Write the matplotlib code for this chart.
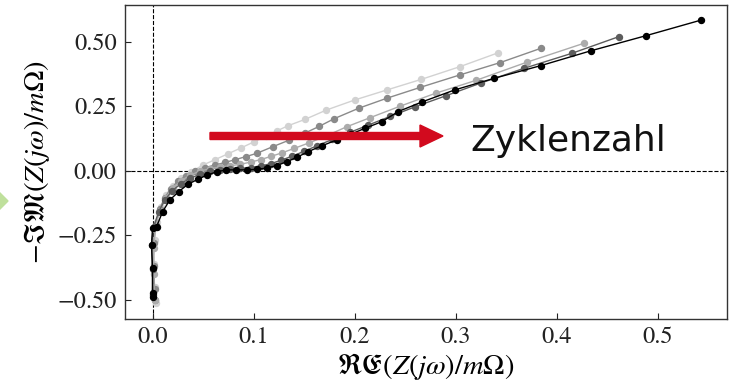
import matplotlib
matplotlib.use("Agg")
import matplotlib.pyplot as plt
from matplotlib.patches import FancyArrow, Polygon

# Nyquist spectra, one per cycle count (light -> dark)
colors = ["#d2d2d2", "#8a8a8a", "#acacac", "#5c5c5c", "#000000"]

re_1 = [0.003, 0.002, 0.001, 0.002, 0.004, 0.008, 0.013, 0.020, 0.028, 0.038, 0.050, 0.062,
        0.075, 0.088, 0.100, 0.112, 0.123, 0.134, 0.151, 0.172, 0.200, 0.232, 0.266, 0.304, 0.342]
im_1 = [-0.514, -0.45, -0.36, -0.27, -0.20, -0.14, -0.095, -0.058, -0.030, -0.005, 0.022, 0.043,
        0.066, 0.089, 0.111, 0.133, 0.154, 0.174, 0.199, 0.235, 0.274, 0.313, 0.354, 0.403, 0.457]

re_2 = [0.002, 0.002, 0.001, 0.001, 0.003, 0.007, 0.012, 0.018, 0.025, 0.033, 0.042, 0.052, 0.062,
        0.072, 0.082, 0.092, 0.103, 0.119, 0.135, 0.151, 0.165, 0.180, 0.204, 0.232, 0.265, 0.304,
        0.344, 0.384]
im_2 = [-0.50, -0.46, -0.37, -0.28, -0.21, -0.15, -0.105, -0.070, -0.042, -0.020, -0.002, 0.012,
        0.022, 0.032, 0.043, 0.054, 0.067, 0.093, 0.118, 0.146, 0.172, 0.202, 0.242, 0.281, 0.323,
        0.371, 0.419, 0.474]

re_3 = [0.002, 0.001, 0.001, 0.003, 0.007, 0.013, 0.020, 0.028, 0.037, 0.047, 0.057, 0.067, 0.077,
        0.087, 0.097, 0.107, 0.117, 0.128, 0.140, 0.155, 0.172, 0.192, 0.215, 0.245, 0.280, 0.320,
        0.370, 0.427]
im_3 = [-0.50, -0.40, -0.30, -0.22, -0.155, -0.105, -0.068, -0.040, -0.018, -0.002, 0.008, 0.014,
        0.019, 0.025, 0.033, 0.043, 0.055, 0.069, 0.086, 0.108, 0.135, 0.170, 0.205, 0.250, 0.300,
        0.350, 0.420, 0.494]

re_4 = [0.000, 0.000, -0.001, 0.001, 0.006, 0.012, 0.019, 0.028, 0.037, 0.047, 0.057, 0.067, 0.077,
        0.087, 0.097, 0.107, 0.117, 0.127, 0.138, 0.150, 0.163, 0.178, 0.195, 0.213, 0.235, 0.260,
        0.290, 0.325, 0.367, 0.415, 0.461]
im_4 = [-0.48, -0.38, -0.29, -0.22, -0.16, -0.115, -0.080, -0.050, -0.030, -0.014, -0.003, 0.004,
        0.007, 0.009, 0.012, 0.018, 0.027, 0.040, 0.056, 0.075, 0.097, 0.121, 0.148, 0.176, 0.210,
        0.248, 0.290, 0.340, 0.396, 0.455, 0.519]

re_5 = [0.000, 0.000, 0.000, -0.001, 0.000, 0.004, 0.010, 0.017, 0.026, 0.035, 0.045, 0.054, 0.064,
        0.073, 0.083, 0.093, 0.103, 0.113, 0.123, 0.133, 0.143, 0.154, 0.168, 0.182, 0.196, 0.210,
        0.227, 0.243, 0.267, 0.299, 0.338, 0.384, 0.434, 0.488, 0.543]
im_5 = [-0.49, -0.475, -0.378, -0.288, -0.223, -0.217, -0.159, -0.114, -0.081, -0.053, -0.033,
        -0.017, -0.004, 0.003, 0.003, 0.003, 0.005, 0.010, 0.020, 0.035, 0.052, 0.074, 0.097, 0.119,
        0.141, 0.164, 0.190, 0.229, 0.267, 0.313, 0.358, 0.407, 0.465, 0.523, 0.584]

series = [(re_1, im_1), (re_2, im_2), (re_3, im_3), (re_4, im_4), (re_5, im_5)]

xticks = [0.0, 0.1, 0.2, 0.3, 0.4, 0.5]
yticks = [-0.50, -0.25, 0.00, 0.25, 0.50]

plt.rcParams["mathtext.fontset"] = "stix"
plt.rcParams["font.family"] = "STIXGeneral"

fig = plt.figure(figsize=(7.29, 3.83), dpi=100)
ax = fig.add_axes([0.1715, 0.1684, 0.8258, 0.8185])

ax.axhline(0, color="black", ls="--", lw=0.8, zorder=1)
ax.axvline(0, color="black", ls="--", lw=0.8, zorder=1)

for (re, im), c in zip(series, colors):
    ax.plot(re, im, color=c, lw=1.0, marker="o", ms=4.3, mec=c, mfc=c, zorder=2)

ax.set_xlim(-0.0272, 0.5683)
ax.set_ylim(-0.573, 0.642)
ax.set_xticks(xticks)
ax.set_xticklabels([f"{v:.1f}" for v in xticks])
ax.set_yticks(yticks)
ax.set_yticklabels([f"{v:.2f}".replace("-", "\u2212") for v in yticks])
ax.tick_params(direction="in", length=4, width=0.8, labelsize=17.5, colors="#222222", pad=6)
for s in ax.spines.values():
    s.set_color("#333333")
    s.set_linewidth(1.0)

ax.set_xlabel(r"$\mathfrak{RE}(Z(j\omega)/m\Omega)$", fontsize=20.5, labelpad=2)
ax.set_ylabel(r"$-\mathfrak{IM}(Z(j\omega)/m\Omega)$", fontsize=20.5, labelpad=4)

# red arrow + annotation (inches from bottom-left)
arrow = FancyArrow(2.10, 2.47, 2.33, 0.0, width=0.07, head_width=0.22, head_length=0.23,
                   length_includes_head=True, color="#d20a1e", transform=fig.dpi_scale_trans)
fig.patches.append(arrow)
fig.text(4.70, 2.32, "Zyklenzahl", fontsize=26, family="DejaVu Sans", color="#111111",
         va="baseline", ha="left", transform=fig.dpi_scale_trans)

# green marker at left edge
tri = Polygon([(-0.05, 1.95), (0.08, 1.82), (-0.05, 1.69)], closed=True, color="#bfe09c",
              transform=fig.dpi_scale_trans)
fig.patches.append(tri)

fig.savefig("out.png", dpi=100)
